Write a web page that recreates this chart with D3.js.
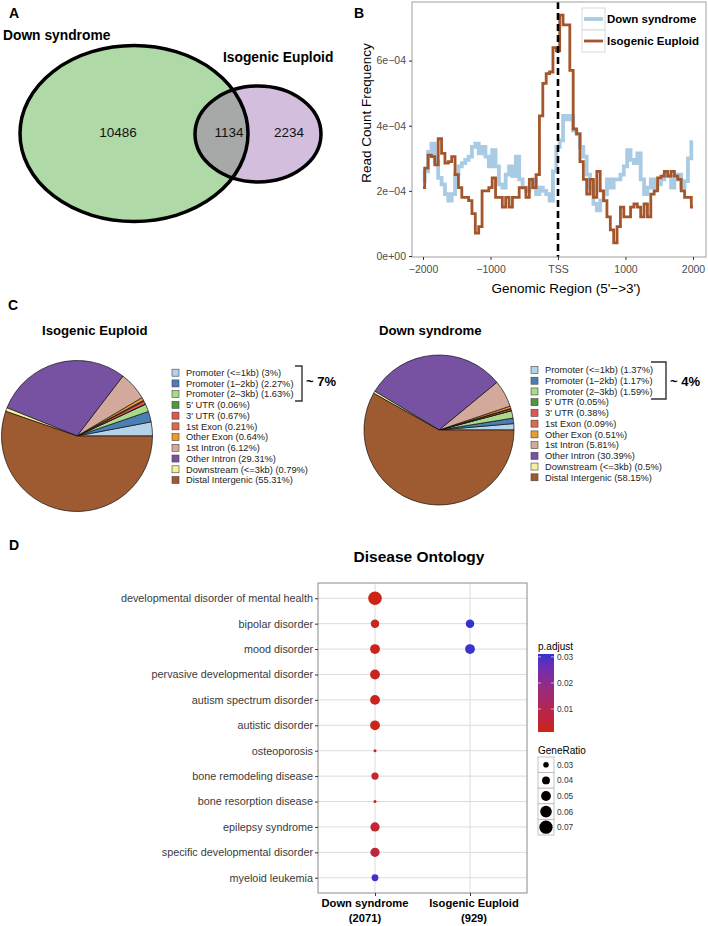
<!DOCTYPE html>
<html>
<head>
<meta charset="utf-8">
<script src="https://cdn.jsdelivr.net/npm/d3@7"></script>
<style>
  body { margin: 0; background: #fff; }
  text { font-family: "Liberation Sans", Arial, Helvetica, sans-serif; }
</style>
</head>
<body>
<svg id="fig" width="708" height="926"></svg>
<script>
// ---- A: venn ----
const vennSets = ["Down syndrome", "Isogenic Euploid"];
const vennCounts = [10486, 1134, 2234];   // only DS, shared, only IE

// ---- B: read count frequency around TSS (units of 1e-4) ----
const tssPos = d3.range(-2000, 2001, 50);
const downFreq = [2.3, 2.6, 3.2, 3.45, 2.9, 2.4, 2.2, 1.9, 1.7, 1.9,
  2.5, 2.75, 2.85, 2.95, 3.05, 3.35, 3.45, 3.15, 3.35, 3.05,
  2.75, 3.25, 2.75, 2.2, 2.1, 2.5, 2.75, 2.45, 3.05, 2.35,
  2.1, 2.0, 2.1, 2.35, 1.9, 2.1, 2.0, 1.9, 1.7, 2.6,
  3.35, 3.55, 4.3, 4.2, 4.3, 3.85, 3.75, 3.35, 3.05, 2.5,
  2.1, 1.6, 1.4, 1.7, 1.9, 2.35, 2.1, 2.35, 2.35, 2.5,
  2.75, 3.25, 2.95, 2.85, 3.15, 2.35, 1.9, 2.1, 2.35, 2.1,
  2.2, 2.35, 2.5, 2.45, 2.1, 2.35, 2.5, 2.1, 2.3, 3.0, 3.5];
const euploidFreq = [2.1, 2.7, 3.1, 3.05, 2.8, 3.6, 3.15, 2.85, 2.9, 3.05,
  2.5, 2.1, 1.8, 1.8, 1.7, 1.3, 0.7, 0.9, 2.0, 2.0,
  2.1, 2.4, 1.8, 1.8, 1.5, 1.8, 1.5, 1.8, 1.8, 2.1,
  2.1, 1.8, 2.35, 2.1, 2.5, 4.3, 5.3, 5.6, 5.65, 6.4,
  6.3, 7.4, 7.1, 7.1, 5.7, 3.9, 3.75, 2.9, 2.35, 1.9,
  2.35, 1.8, 2.6, 2.0, 1.7, 1.2, 0.8, 0.4, 0.9, 1.5,
  1.2, 1.2, 1.5, 1.6, 1.5, 1.2, 1.6, 1.2, 1.9, 2.0,
  2.4, 2.45, 2.6, 2.45, 2.6, 2.45, 2.35, 2.0, 1.8, 1.8, 1.5];
const tssTicks = [-2000, -1000, 0, 1000, 2000];
const freqTicks = [0, 2, 4, 6];

// ---- C: peak annotation ----
const annoCats = ["Promoter (<=1kb)", "Promoter (1\u20132kb)", "Promoter (2\u20133kb)", "5' UTR", "3' UTR",
  "1st Exon", "Other Exon", "1st Intron", "Other Intron", "Downstream (<=3kb)", "Distal Intergenic"];
const annoColors = ["#b4d2e8", "#4a7fb5", "#a9d98b", "#4e9a3a", "#e05555", "#e0694a",
  "#ee9a2a", "#d3a99c", "#7752a3", "#f4f29a", "#9e5a30"];
const euploidPct = [3, 2.27, 1.63, 0.06, 0.67, 0.21, 0.64, 6.12, 29.31, 0.79, 55.31];
const downPct = [1.37, 1.17, 1.59, 0.05, 0.38, 0.09, 0.51, 5.81, 30.39, 0.5, 58.15];

// ---- D: disease ontology ----
const doTerms = ["developmental disorder of mental health", "bipolar disorder", "mood disorder",
  "pervasive developmental disorder", "autism spectrum disorder", "autistic disorder", "osteoporosis",
  "bone remodeling disease", "bone resorption disease", "epilepsy syndrome",
  "specific developmental disorder", "myeloid leukemia"];
const doGroups = ["Down syndrome", "Isogenic Euploid"];
const doGroupN = [2071, 929];
const dsRatio = [0.072, 0.043, 0.05, 0.05, 0.05, 0.05, 0.02, 0.037, 0.02, 0.047, 0.047, 0.035];
const dsPadj = [0.0012, 0.0025, 0.0018, 0.002, 0.002, 0.002, 0.003, 0.004, 0.003, 0.005, 0.007, 0.030];
const ieTerms = ["bipolar disorder", "mood disorder"];
const ieRatio = [0.043, 0.05];
const iePadj = [0.0311, 0.0305];
const ratioTicks = [0.03, 0.04, 0.05, 0.06, 0.07];
const padjTicks = [0.01, 0.02, 0.03];

const svg = d3.select("#fig");
const bold = sel => sel.attr("font-weight", "bold");

function panelLabel(t, x, y) {
  svg.append("text").attr("x", x).attr("y", y).text(t)
    .attr("font-size", 14).call(bold);
}

// ================= A =================
panelLabel("A", 9, 18);
const gA = svg.append("g");
const bigE = {cx: 134, cy: 133.5, rx: 114, ry: 88};
const smallE = {cx: 258, cy: 134, rx: 63, ry: 48};

svg.append("defs").append("clipPath").attr("id", "clipBig")
  .append("ellipse").attr("cx", bigE.cx).attr("cy", bigE.cy).attr("rx", bigE.rx).attr("ry", bigE.ry);

gA.append("ellipse").attr("cx", bigE.cx).attr("cy", bigE.cy).attr("rx", bigE.rx).attr("ry", bigE.ry)
  .attr("fill", "#b0d9a8");
gA.append("ellipse").attr("cx", smallE.cx).attr("cy", smallE.cy).attr("rx", smallE.rx).attr("ry", smallE.ry)
  .attr("fill", "#d4bedd");
gA.append("ellipse").attr("cx", smallE.cx).attr("cy", smallE.cy).attr("rx", smallE.rx).attr("ry", smallE.ry)
  .attr("fill", "#a6a9a7").attr("clip-path", "url(#clipBig)");
[bigE, smallE].forEach(e => {
  gA.append("ellipse").attr("cx", e.cx).attr("cy", e.cy).attr("rx", e.rx).attr("ry", e.ry)
    .attr("fill", "none").attr("stroke", "#000").attr("stroke-width", 3.5);
});
gA.append("text").attr("x", 3).attr("y", 39.5).text(vennSets[0]).attr("font-size", 13.8).call(bold);
gA.append("text").attr("x", 223).attr("y", 62).text(vennSets[1]).attr("font-size", 13.8).call(bold);
const vennX = [118, 229, 289];
vennCounts.forEach((c, i) => {
  gA.append("text").attr("x", vennX[i]).attr("y", 137).attr("text-anchor", "middle")
    .attr("font-size", 13.5).attr("fill", "#111").text(c);
});

// ================= B =================
panelLabel("B", 354, 18);
const gB = svg.append("g");
const bx = d3.scaleLinear().domain([-2000, 2000]).range([423, 693]);
const by = d3.scaleLinear().domain([0, 7.8]).range([256, 2]);
const bPanel = {x0: 412, x1: 706, y0: 2, y1: 257};

const line = (vals) => d3.line().curve(d3.curveStep)
  .x((d, i) => bx(tssPos[i])).y(d => by(d))(vals);

gB.append("path").attr("d", line(downFreq)).attr("fill", "none")
  .attr("stroke", "#a9cce4").attr("stroke-width", 3.8);
gB.append("path").attr("d", line(euploidFreq)).attr("fill", "none")
  .attr("stroke", "#a3552b").attr("stroke-width", 2.8);
gB.append("line").attr("x1", bx(0)).attr("x2", bx(0)).attr("y1", bPanel.y0).attr("y2", bPanel.y1)
  .attr("stroke", "#000").attr("stroke-width", 2.6).attr("stroke-dasharray", "7,4");
gB.append("rect").attr("x", bPanel.x0).attr("y", bPanel.y0)
  .attr("width", bPanel.x1 - bPanel.x0).attr("height", bPanel.y1 - bPanel.y0)
  .attr("fill", "none").attr("stroke", "#a0a0a0").attr("stroke-width", 1);

const yAxB = gB.append("g").attr("transform", `translate(${bPanel.x0},0)`)
  .call(d3.axisLeft(by).tickValues(freqTicks).tickSize(3)
    .tickFormat(d => d === 0 ? "0e+00" : d + "e\u221204"));
const xAxB = gB.append("g").attr("transform", `translate(0,${bPanel.y1})`)
  .call(d3.axisBottom(bx).tickValues(tssTicks).tickSize(3)
    .tickFormat(d => d === 0 ? "TSS" : d3.format("d")(d).replace("-", "\u2212")));
[yAxB, xAxB].forEach(ax => {
  ax.select(".domain").remove();
  ax.selectAll("line").attr("stroke", "#333");
  ax.selectAll("text").attr("font-size", 10.5).attr("fill", "#4d4d4d")
    .attr("font-family", "Liberation Sans, Arial, sans-serif");
});
xAxB.selectAll("text").attr("dy", "0.95em");

gB.append("text").attr("transform", "translate(371,113) rotate(-90)")
  .attr("text-anchor", "middle").attr("font-size", 13.5).text("Read Count Frequency");
gB.append("text").attr("x", 566).attr("y", 293).attr("text-anchor", "middle")
  .attr("font-size", 13.5).text("Genomic Region (5'\u2212>3')");

// legend B
const bLeg = [{name: doGroups[0], col: "#a9cce4", w: 3.8}, {name: doGroups[1], col: "#a3552b", w: 2.8}];
bLeg.forEach((d, i) => {
  const y0 = 8 + i * 22;
  gB.append("rect").attr("x", 582).attr("y", y0).attr("width", 23).attr("height", 22)
    .attr("fill", "#fff").attr("stroke", "#d9d9d9");
  gB.append("line").attr("x1", 584).attr("x2", 603).attr("y1", y0 + 11).attr("y2", y0 + 11)
    .attr("stroke", d.col).attr("stroke-width", d.w);
  gB.append("text").attr("x", 607).attr("y", y0 + 15).attr("font-size", 11.5).call(bold).text(d.name);
});

// ================= C =================
panelLabel("C", 8, 310);
function drawPie(cx, cy, r, pct, title, titleX, legX, legY0, bracketX0, bracketX1, bracketY0, bracketY1, note) {
  const g = svg.append("g");
  const pie = d3.pie().sort(null).startAngle(Math.PI / 2).endAngle(Math.PI / 2 - 2 * Math.PI);
  const arc = d3.arc().innerRadius(0).outerRadius(r);
  g.append("g").attr("transform", `translate(${cx},${cy})`)
    .selectAll("path").data(pie(pct)).join("path")
    .attr("d", arc).attr("fill", (d, i) => annoColors[i])
    .attr("stroke", "#111").attr("stroke-width", 0.7);
  g.append("text").attr("x", titleX).attr("y", 335).attr("font-size", 13.2).call(bold).text(title);
  const step = 10.73;
  annoCats.forEach((c, i) => {
    const y = legY0 + i * step;
    g.append("rect").attr("x", legX).attr("y", y - 3.5).attr("width", 7).attr("height", 7)
      .attr("fill", annoColors[i]).attr("stroke", "#444").attr("stroke-width", 0.6);
    g.append("text").attr("x", legX + 14).attr("y", y).attr("dy", "0.35em")
      .attr("font-size", 9.3).attr("fill", "#222").text(`${c} (${pct[i]}%)`);
  });
  g.append("path")
    .attr("d", `M${bracketX0},${bracketY0}H${bracketX1}V${bracketY1}H${bracketX0}`)
    .attr("fill", "none").attr("stroke", "#333").attr("stroke-width", 1.4);
  g.append("text").attr("x", bracketX1 + 4).attr("y", 386).attr("font-size", 13).call(bold).text(note);
}
drawPie(77, 436, 75.5, euploidPct, "Isogenic Euploid", 42, 172, 372.7, 295, 302, 366, 401, "~ 7%");
drawPie(439, 430, 75, downPct, "Down syndrome", 379, 531, 370, 651, 666, 362, 399, "~ 4%");

// ================= D =================
panelLabel("D", 9, 550);
const gD = svg.append("g");
const dPanel = {x0: 318, x1: 527, y0: 583, y1: 893};
const dx = d3.scalePoint().domain(doGroups).range([dPanel.x0, dPanel.x1]).padding(0.6);
const dy = d3.scalePoint().domain(doTerms).range([dPanel.y0, dPanel.y1]).padding(0.6);
const sizeScale = d3.scaleSqrt().domain([0.02, 0.075]).range([1.5, 7]);
const padjLo = 0.0012, padjHi = 0.0311;
const colScale = d3.scaleLinear().domain([padjLo, padjHi]).range(["#cc2516", "#3232d2"])
  .interpolate(d3.interpolateLab);

gD.append("text").attr("x", 419).attr("y", 562).attr("text-anchor", "middle")
  .attr("font-size", 15.5).call(bold).text("Disease Ontology");

gD.append("rect").attr("x", dPanel.x0).attr("y", dPanel.y0)
  .attr("width", dPanel.x1 - dPanel.x0).attr("height", dPanel.y1 - dPanel.y0).attr("fill", "#fff");
gD.selectAll(".hgrid").data(doTerms).join("line").attr("class", "hgrid")
  .attr("x1", dPanel.x0).attr("x2", dPanel.x1).attr("y1", d => dy(d)).attr("y2", d => dy(d))
  .attr("stroke", "#dcdcdc").attr("stroke-width", 1);
gD.selectAll(".vgrid").data(doGroups).join("line").attr("class", "vgrid")
  .attr("x1", d => dx(d)).attr("x2", d => dx(d)).attr("y1", dPanel.y0).attr("y2", dPanel.y1)
  .attr("stroke", "#dcdcdc").attr("stroke-width", 1);
gD.append("rect").attr("x", dPanel.x0).attr("y", dPanel.y0)
  .attr("width", dPanel.x1 - dPanel.x0).attr("height", dPanel.y1 - dPanel.y0)
  .attr("fill", "none").attr("stroke", "#8a8a8a").attr("stroke-width", 1);

const yAxD = gD.append("g").attr("transform", `translate(${dPanel.x0},0)`)
  .call(d3.axisLeft(dy).tickSize(3).tickPadding(2));
yAxD.select(".domain").remove();
yAxD.selectAll("line").attr("stroke", "#333");
yAxD.selectAll("text").attr("font-size", 10.8).attr("fill", "#3a3a3a")
  .attr("font-family", "Liberation Sans, Arial, sans-serif");

const xAxD = gD.append("g").attr("transform", `translate(0,${dPanel.y1})`)
  .call(d3.axisBottom(dx).tickSize(3).tickFormat(""));
xAxD.select(".domain").remove();
xAxD.selectAll("line").attr("stroke", "#333");
doGroups.forEach((g, i) => {
  const t = gD.append("text").attr("x", dx(g) + (i === 0 ? -10 : 4)).attr("y", 907)
    .attr("text-anchor", "middle").attr("font-size", 11.2).call(bold);
  t.append("tspan").text(g);
  t.append("tspan").attr("x", dx(g) + (i === 0 ? -10 : 4)).attr("dy", 15).text(`(${doGroupN[i]})`);
});

const dsDots = doTerms.map((t, i) => ({term: t, group: doGroups[0], ratio: dsRatio[i], padj: dsPadj[i]}));
const ieDots = ieTerms.map((t, i) => ({term: t, group: doGroups[1], ratio: ieRatio[i], padj: iePadj[i]}));
gD.selectAll(".dot").data(dsDots.concat(ieDots)).join("circle").attr("class", "dot")
  .attr("cx", d => dx(d.group)).attr("cy", d => dy(d.term))
  .attr("r", d => sizeScale(d.ratio)).attr("fill", d => colScale(d.padj));

// colour bar legend
const cb = {x: 538, w: 16, y0: 654, y1: 732};
const cbY = d3.scaleLinear().domain([padjLo, padjHi]).range([cb.y1, cb.y0]);
const grad = svg.select("defs").append("linearGradient").attr("id", "padjGrad")
  .attr("x1", 0).attr("y1", 1).attr("x2", 0).attr("y2", 0);
d3.range(0, 1.0001, 0.1).forEach(t => {
  grad.append("stop").attr("offset", t).attr("stop-color", colScale(padjLo + t * (padjHi - padjLo)));
});
gD.append("text").attr("x", cb.x).attr("y", 650).attr("font-size", 10).text("p.adjust");
gD.append("rect").attr("x", cb.x).attr("y", cb.y0).attr("width", cb.w).attr("height", cb.y1 - cb.y0)
  .attr("fill", "url(#padjGrad)");
padjTicks.forEach(v => {
  const y = cbY(v);
  gD.append("line").attr("x1", cb.x).attr("x2", cb.x + 3).attr("y1", y).attr("y2", y)
    .attr("stroke", "#fff").attr("stroke-opacity", 0.6);
  gD.append("line").attr("x1", cb.x + cb.w - 3).attr("x2", cb.x + cb.w).attr("y1", y).attr("y2", y)
    .attr("stroke", "#fff").attr("stroke-opacity", 0.6);
  gD.append("text").attr("x", cb.x + cb.w + 3).attr("y", y).attr("dy", "0.35em")
    .attr("font-size", 8.3).attr("fill", "#333").text(v.toFixed(2));
});

// size legend
gD.append("text").attr("x", cb.x).attr("y", 754).attr("font-size", 10).text("GeneRatio");
ratioTicks.forEach((v, i) => {
  const y0 = 757 + i * 15.6;
  gD.append("rect").attr("x", cb.x).attr("y", y0).attr("width", 16).attr("height", 15.6)
    .attr("fill", "#fff").attr("stroke", "#b5b5b5").attr("stroke-width", 0.8);
  gD.append("circle").attr("cx", cb.x + 8).attr("cy", y0 + 7.8).attr("r", sizeScale(v)).attr("fill", "#000");
  gD.append("text").attr("x", cb.x + 19).attr("y", y0 + 7.8).attr("dy", "0.35em")
    .attr("font-size", 8.3).attr("fill", "#333").text(v.toFixed(2));
});
</script>
</body>
</html>
